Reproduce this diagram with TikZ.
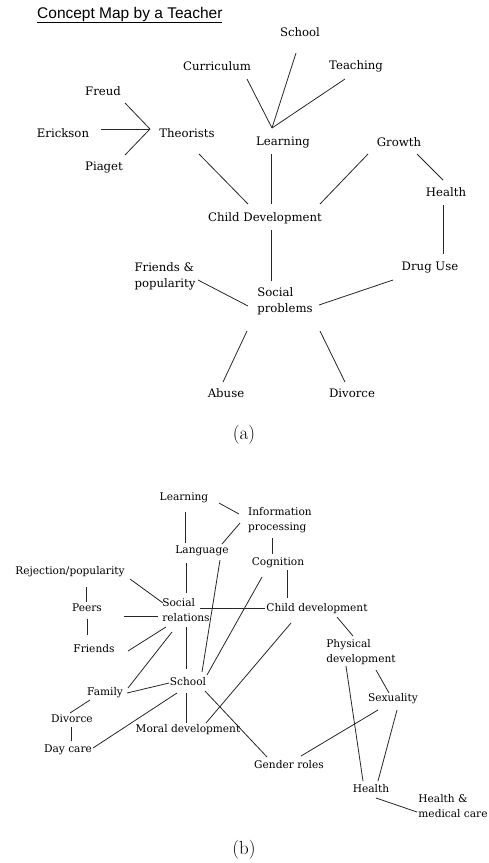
\documentclass[tikz,border=0pt]{standalone}
\usepackage{fontspec}
\newfontfamily\nodefont{DejaVu Serif}
\newfontfamily\titlefont{Liberation Sans}
\newcommand\cnx[4]{\draw[ln] ([shift={(#2)}]#1.center) -- ([shift={(#4)}]#3.center);}
\begin{document}
\begin{tikzpicture}[x=1pt,y=-1pt,
 na/.style={font=\nodefont\fontsize{11.7}{16}\selectfont, text=black, inner sep=0pt, align=left},
 nb/.style={font=\nodefont\fontsize{10.6}{14.8}\selectfont, text=black, inner sep=0pt, align=left},
 ln/.style={draw=black!85, line width=0.8pt}]
\useasboundingbox (0,0) rectangle (488,863);
% ---------- (a) ----------
\node[font=\titlefont\fontsize{15.5}{18}\selectfont, text=black, inner sep=0pt, anchor=west] (title) at (37,15) {\underline{Concept Map by a Teacher}};
\node[na] (school) at (300,32) {School};
\node[na] (curr) at (217,66) {Curriculum};
\node[na] (teach) at (356,66) {Teaching};
\node[na] (freud) at (103,91) {Freud};
\node[na] (erick) at (63,133) {Erickson};
\node[na] (theor) at (187,133) {Theorists};
\node[na] (piaget) at (104,167) {Piaget};
\node[na] (learnA) at (283,142) {Learning};
\node[na] (growth) at (399,142) {Growth};
\node[na] (healthA) at (446,192) {Health};
\node[na] (cdA) at (265,218) {Child Development};
\node[na] (friendsA) at (165,276) {Friends \&\\popularity};
\node[na] (drug) at (430,268) {Drug Use};
\node[na] (social) at (285,301) {Social\\problems};
\node[na] (abuse) at (226,393) {Abuse};
\node[na] (divorceA) at (352,393) {Divorce};
\node[font=\fontsize{19}{22}\selectfont, inner sep=0pt] (capA) at (244,435) {(a)};
\coordinate (jT) at (150,129);
\coordinate (jL) at (272,128);
\cnx{freud}{22,12}{jT}{0,0}
\cnx{piaget}{21,-12}{jT}{0,0}
\cnx{erick}{38,-4}{jT}{0,0}
\cnx{curr}{30,13}{jL}{0,0}
\cnx{school}{-4,21}{jL}{0,0}
\cnx{teach}{-11,13}{jL}{0,0}
\cnx{theor}{12,21}{cdA}{-17,-14}
\cnx{learnA}{-12,12}{cdA}{6,-14}
\cnx{growth}{-31,12}{cdA}{55,-14}
\cnx{growth}{18,12}{healthA}{-3,-12}
\cnx{healthA}{-3,13}{drug}{13,-14}
\cnx{cdA}{6,12}{social}{-14,-20}
\cnx{friendsA}{33,4}{social}{-37,5}
\cnx{drug}{-37,12}{social}{34,4}
\cnx{social}{-38,30}{abuse}{-3,-11}
\cnx{social}{35,30}{divorceA}{-7,-11}
% ---------- (b) ----------
\node[nb] (learnB) at (184,498) {Learning};
\node[nb] (info) at (280,520) {Information\\processing};
\node[nb] (lang) at (202,551) {Language};
\node[nb] (cog) at (278,563) {Cognition};
\node[nb] (rej) at (70,572) {Rejection/popularity};
\node[nb] (peers) at (87,608) {Peers};
\node[nb] (socrel) at (186,610) {Social\\relations};
\node[nb] (cdB) at (317,609) {Child development};
\node[nb] (friendsB) at (94,649) {Friends};
\node[nb] (phys) at (361,652) {Physical\\development};
\node[nb] (schoolB) at (188,682) {School};
\node[nb] (family) at (105,693) {Family};
\node[nb] (sex) at (393,699) {Sexuality};
\node[nb] (divB) at (72,719) {Divorce};
\node[nb] (moral) at (188,730) {Moral development};
\node[nb] (day) at (68,750) {Day care};
\node[nb] (gender) at (289,765) {Gender roles};
\node[nb] (healthB) at (371,789) {Health};
\node[nb] (hmc) at (453,806) {Health \&\\medical care};
\node[font=\fontsize{19}{22}\selectfont, inner sep=0pt] (capB) at (244,850) {(b)};
\cnx{learnB}{35,5}{info}{-41,-6}
\cnx{learnB}{1,14}{lang}{-17,-8}
\cnx{info}{-40,3}{lang}{20,-7}
\cnx{lang}{18,9}{schoolB}{14,-10}
\cnx{lang}{-16,12}{socrel}{0,-17}
\cnx{info}{-8,18}{cog}{-6,-9}
\cnx{cog}{9,7}{cdB}{-30,-11}
\cnx{cog}{-16,14}{schoolB}{19,-7}
\cnx{rej}{60,7}{socrel}{-23,-7}
\cnx{rej}{16,15}{peers}{-1,-6}
\cnx{peers}{0,11}{friendsB}{-7,-14}
\cnx{peers}{37,8}{socrel}{-28,6}
\cnx{socrel}{14,-2}{cdB}{-52,-1}
\cnx{friendsB}{34,2}{socrel}{-20,17}
\cnx{socrel}{-14,22}{family}{23,-5}
\cnx{socrel}{0,17}{schoolB}{-2,-13}
\cnx{cdB}{-26,14}{moral}{18,-7}
\cnx{cdB}{20,8}{phys}{-8,-16}
\cnx{family}{22,0}{schoolB}{-19,1}
\cnx{family}{-15,7}{divB}{-2,-6}
\cnx{divB}{-1,8}{day}{3,-9}
\cnx{day}{25,-2}{schoolB}{-11,11}
\cnx{schoolB}{-2,11}{moral}{-2,-7}
\cnx{schoolB}{17,9}{gender}{-22,-8}
\cnx{phys}{-15,14}{healthB}{-8,-8}
\cnx{phys}{15,18}{sex}{-4,-6}
\cnx{sex}{-15,11}{gender}{12,-9}
\cnx{sex}{4,11}{healthB}{7,-8}
\cnx{healthB}{5,9}{hmc}{-36,6}
\end{tikzpicture}
\end{document}
